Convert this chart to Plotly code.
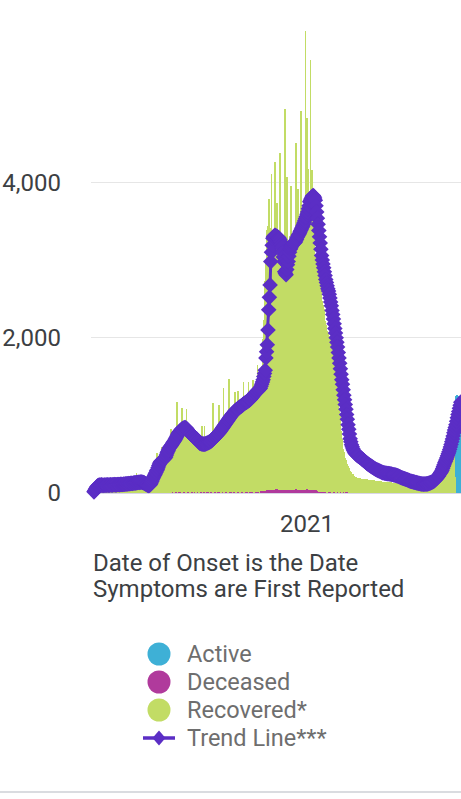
import pandas as pd
import plotly.graph_objects as go

# ---------------- data (daily) ----------------
start_date = "2020-03-01"

trend = [
    15, 30, 48, 62, 78, 88, 96,
    100, 102, 99, 101, 104, 100, 98,
    99, 101, 103, 100, 102, 105, 103,
    101, 100, 104, 106, 103, 102, 105,
    107, 106, 108, 105, 104, 107, 109,
    110, 108, 107, 111, 112, 110, 109,
    112, 114, 113, 115, 117, 116, 118,
    120, 121, 119, 122, 124, 125, 123,
    126, 128, 130, 129, 131, 133, 135,
    136, 138, 137, 139, 140, 141, 139,
    137, 134, 130, 124, 118, 112, 106,
    102, 98, 96, 100, 112, 128, 148,
    170, 192, 210, 228, 246, 265, 285,
    300, 325, 350, 372, 392, 405, 412,
    420, 428, 436, 444, 450, 465, 490,
    515, 535, 555, 575, 590, 600, 612,
    625, 640, 652, 665, 680, 695, 712,
    730, 748, 765, 778, 790, 800, 812,
    820, 828, 834, 838, 840, 842, 838,
    830, 818, 805, 792, 780, 770, 762,
    752, 745, 736, 728, 720, 712, 705,
    698, 690, 680, 668, 655, 642, 638,
    636, 633, 632, 630, 631, 630, 632,
    636, 640, 644, 648, 652, 656, 660,
    668, 676, 684, 692, 702, 711, 720,
    730, 740, 750, 760, 770, 780, 790,
    802, 815, 828, 840, 852, 866, 880,
    892, 905, 918, 930, 943, 957, 970,
    982, 994, 1005, 1016, 1027, 1038, 1049,
    1060, 1068, 1075, 1082, 1089, 1096, 1103,
    1110, 1116, 1122, 1130, 1138, 1146, 1153,
    1160, 1166, 1171, 1177, 1183, 1189, 1195,
    1200, 1211, 1222, 1234, 1246, 1258, 1270,
    1280, 1289, 1298, 1306, 1315, 1324, 1333,
    1342, 1350, 1375, 1402, 1430, 1460, 1500,
    1540, 1580, 1740, 1820, 1910, 2100, 2360,
    2520, 2680, 2980, 3100, 3190, 3280, 3300,
    3310, 3320, 3315, 3305, 3300, 3295, 3290,
    3280, 3260, 3240, 3200, 3160, 3100, 3040,
    2980, 2850, 2830, 2810, 2880, 2940, 2980,
    3050, 3100, 3140, 3160, 3180, 3195, 3210,
    3215, 3222, 3230, 3250, 3268, 3290, 3310,
    3325, 3340, 3360, 3380, 3400, 3420, 3440,
    3460, 3485, 3510, 3535, 3560, 3590, 3620,
    3660, 3700, 3750, 3770, 3790, 3810, 3825,
    3830, 3820, 3800, 3770, 3700, 3620, 3540,
    3460, 3380, 3300, 3220, 3140, 3060, 3000,
    2950, 2900, 2850, 2800, 2750, 2710, 2670,
    2630, 2600, 2560, 2510, 2460, 2410, 2350,
    2300, 2240, 2180, 2120, 2060, 2000, 1940,
    1880, 1810, 1740, 1670, 1600, 1530, 1460,
    1400, 1330, 1260, 1200, 1140, 1080, 1010,
    950, 880, 820, 760, 700, 660, 620,
    595, 570, 550, 530, 515, 505, 495,
    488, 480, 474, 468, 462, 456, 450,
    440, 432, 424, 416, 408, 400, 392,
    385, 378, 371, 364, 358, 352, 346,
    340, 334, 328, 322, 316, 310, 305,
    300, 296, 292, 288, 284, 280, 275,
    270, 266, 262, 260, 258, 256, 255,
    253, 251, 250, 249, 248, 246, 245,
    243, 241, 238, 236, 234, 232, 230,
    227, 224, 221, 218, 214, 210, 205,
    200, 197, 193, 190, 187, 184, 180,
    177, 174, 171, 167, 163, 159, 155,
    152, 150, 148, 145, 143, 140, 138,
    136, 133, 130, 128, 126, 124, 122,
    120, 118, 116, 115, 115, 114, 115,
    115, 116, 117, 118, 121, 124, 127,
    130, 134, 138, 142, 147, 152, 160,
    168, 177, 187, 197, 208, 220, 234,
    248, 262, 275, 292, 315, 340, 365,
    388, 410, 432, 455, 480, 505, 530,
    560, 592, 625, 660, 695, 735, 775,
    810, 845, 880, 925, 970, 1010, 1050,
    1090, 1130, 1170, 1200, 1230, 1260, 1290,
]

recovered = [
    0, 0, 2, 0, 5, 3, 8,
    10, 12, 8, 15, 18, 14, 20,
    25, 30, 22, 35, 40, 33, 45,
    50, 55, 48, 60, 65, 58, 70,
    72, 75, 68, 80, 84, 76, 88,
    90, 92, 85, 95, 98, 90, 100,
    104, 100, 96, 108, 110, 102, 112,
    118, 112, 108, 115, 120, 110, 122,
    125, 120, 118, 128, 130, 262, 128,
    132, 130, 126, 135, 138, 128, 134,
    130, 122, 118, 112, 105, 98, 95,
    100, 108, 120, 140, 165, 190, 215,
    330, 260, 285, 300, 330, 320, 360,
    520, 385, 400, 415, 420, 410, 440,
    590, 455, 470, 490, 515, 500, 560,
    650, 590, 605, 625, 645, 600, 830,
    700, 715, 730, 745, 760, 700, 775,
    1160, 790, 800, 812, 820, 760, 830,
    1090, 835, 842, 838, 830, 770, 815,
    1070, 800, 790, 775, 760, 700, 740,
    790, 725, 712, 700, 690, 640, 680,
    770, 665, 652, 642, 636, 585, 628,
    700, 855, 630, 632, 640, 852, 600,
    340, 655, 665, 675, 690, 630, 705,
    720, 735, 750, 1160, 770, 705, 790,
    805, 820, 835, 850, 860, 1120, 880,
    895, 910, 925, 930, 1330, 950, 965,
    975, 990, 940, 1010, 1025, 1455, 1040,
    1050, 1065, 720, 1080, 1090, 1030, 1100,
    1290, 1115, 1120, 1070, 1300, 1140, 1150,
    1160, 1165, 1100, 1175, 1180, 1415, 1190,
    1195, 1200, 1140, 1210, 1220, 1435, 1230,
    1240, 1250, 1190, 1265, 1435, 1280, 1290,
    1300, 1310, 1250, 1325, 1630, 1345, 1380,
    1420, 1470, 1520, 1620, 1760, 1950, 2200,
    2450, 2700, 2950, 3150, 3350, 3400, 3750,
    3350, 3380, 3300, 4070, 3320, 3340, 3280,
    3300, 4220, 3350, 3310, 3680, 3330, 3300,
    3280, 4350, 3250, 3280, 3240, 3200, 3260,
    3220, 4890, 3250, 3210, 4030, 3180, 3200,
    2050, 3250, 3270, 3900, 3290, 3300, 3250,
    3320, 3340, 3300, 4460, 3360, 3380, 3880,
    3400, 3420, 3380, 4870, 3440, 3460, 3420,
    3480, 3500, 3450, 5920, 3520, 4780, 4120,
    3540, 3560, 3500, 5540, 3520, 4130, 3480,
    3420, 3350, 3200, 2060, 3000, 2950, 2900,
    2850, 2800, 2750, 2700, 2600, 2500, 2450,
    2400, 2350, 2250, 2200, 2150, 2100, 2080,
    2050, 2030, 2010, 2000, 1950, 1900, 1850,
    1800, 1720, 1650, 1600, 1530, 1470, 1420,
    1300, 1180, 1080, 980, 880, 790, 700,
    620, 560, 510, 470, 440, 410, 385,
    360, 340, 320, 300, 285, 270, 260,
    250, 240, 230, 220, 210, 205, 200,
    198, 195, 190, 192, 188, 185, 186,
    184, 182, 180, 178, 180, 176, 175,
    174, 172, 170, 171, 168, 166, 168,
    165, 164, 162, 163, 160, 158, 160,
    158, 156, 155, 154, 152, 150, 151,
    150, 148, 147, 146, 145, 143, 144,
    142, 141, 140, 139, 138, 136, 137,
    136, 135, 134, 133, 132, 130, 131,
    130, 129, 128, 127, 126, 125, 126,
    125, 124, 123, 122, 122, 121, 120,
    120, 119, 118, 118, 117, 116, 116,
    115, 115, 114, 114, 113, 113, 112,
    112, 112, 111, 112, 113, 114, 115,
    116, 118, 120, 122, 125, 128, 131,
    135, 139, 143, 148, 150, 152, 155,
    160, 165, 170, 176, 182, 188, 195,
    202, 210, 218, 226, 235, 245, 255,
    265, 276, 288, 300, 315, 330, 350,
    380, 420, 470, 520, 570, 600, 620,
    630, 640, 645, 650, 645, 640, 630,
    600, 450, 200, 120,
]

deceased_start = "2020-06-18"
deceased = [
    10, 14, 0, 16, 12, 14, 0,
    15, 13, 17, 14, 0, 12, 16,
    18, 14, 16, 0, 13, 17, 15,
    14, 16, 0, 15, 18, 13, 14,
    16, 0, 14, 17, 15, 12, 0,
    13, 16, 14, 0, 15, 12, 14,
    0, 13, 15, 14, 12, 0, 14,
    16, 13, 0, 14, 15, 13, 16,
    14, 0, 13, 15, 16, 14, 0,
    15, 14, 16, 13, 0, 14, 17,
    15, 13, 16, 0, 14, 15, 17,
    16, 0, 15, 17, 14, 16, 18,
    0, 16, 17, 15, 18, 16, 0,
    17, 16, 18, 15, 0, 17, 16,
    18, 16, 17, 0, 16, 18, 17,
    16, 18, 0, 17, 16, 19, 18,
    17, 0, 18, 19, 17, 16, 20,
    18, 19, 0, 17, 20, 18, 19,
    20, 18, 19, 0, 20, 22, 21,
    24, 28, 32, 34, 32, 36, 35,
    33, 36, 34, 38, 35, 50, 36,
    34, 37, 35, 36, 48, 50, 49,
    51, 48, 50, 36, 35, 37, 34,
    36, 35, 38, 37, 50, 36, 35,
    34, 36, 35, 37, 38, 36, 50,
    35, 37, 36, 38, 35, 50, 49,
    48, 51, 37, 36, 38, 35, 50,
    36, 38, 35, 37, 36, 38, 50,
    49, 52, 50, 37, 36, 75, 36,
    35, 34, 36, 35, 34, 33, 35,
    34, 33, 32, 34, 18, 16, 17,
    35, 16, 17, 15, 16, 14, 16,
    15, 14, 0, 16, 15, 14, 13,
    14, 15, 0, 13, 14, 12, 15,
    13, 0, 14, 12, 13, 0, 12,
    13, 12, 0, 14, 12, 13, 0,
    12, 13, 11, 12, 13, 0, 0,
]

active_start = "2021-08-03"
active = [1050, 1130, 1260, 1250, 1220, 1200, 1190, 1180, 1150, 1100, 1050, 1000]

y_ticks = [0, 2000, 4000]
y_tick_text = ["0", "2,000", "4,000"]
x_ticks = ["2021-01-01"]
x_tick_text = ["2021"]

legend_names = ["Active", "Deceased", "Recovered*", "Trend Line***"]

# ---------------- styling ----------------
C_ACT = "#3eb0d6"
C_DEC = "#b03a9c"
C_REC = "#c2dc65"
C_TR = "#5b2ec5"
FONT = "Roboto"
TXT = "#3c4043"
LEG_TXT = "#6e6e6e"

trend_dates = pd.date_range(start_date, periods=len(trend), freq="D")
rec_dates = pd.date_range(start_date, periods=len(recovered), freq="D")
dec_dates = pd.date_range(deceased_start, periods=len(deceased), freq="D")
act_dates = pd.date_range(active_start, periods=len(active), freq="D")

fig = go.Figure()
fig.add_trace(go.Bar(x=dec_dates, y=deceased, name="Deceased",
                     marker=dict(color=C_DEC, line=dict(width=0)), showlegend=False))
fig.add_trace(go.Bar(x=rec_dates, y=recovered, name="Recovered*",
                     marker=dict(color=C_REC, line=dict(width=0)), showlegend=False))
fig.add_trace(go.Bar(x=act_dates, y=active, name="Active",
                     marker=dict(color=C_ACT, line=dict(width=0)), showlegend=False))
fig.add_trace(go.Scatter(x=trend_dates, y=trend, mode="lines+markers", name="Trend Line***",
                         line=dict(color=C_TR, width=3),
                         marker=dict(symbol="diamond", size=12, color=C_TR, line=dict(width=0)),
                         cliponaxis=False, showlegend=False))

W, H = 461, 799
L, R, T, B = 91, 0, 31, 306
pw, ph = W - L - R, H - T - B


def px_x(x):
    return (x - L) / pw


def px_y(y):
    return (H - B - y) / ph


# ---- legend drawn as shapes + text, placed to match the reference ----
leg_cx, leg_tx = 159, 185
leg_ys = [654, 682, 710, 738]
leg_colors = [C_ACT, C_DEC, C_REC]
shapes = []
annotations = []
for yy, c in zip(leg_ys[:3], leg_colors):
    r = 11.5
    shapes.append(dict(type="circle", xref="paper", yref="paper",
                       x0=px_x(leg_cx - r), x1=px_x(leg_cx + r),
                       y0=px_y(yy + r), y1=px_y(yy - r),
                       fillcolor=c, line=dict(width=0)))
ty = leg_ys[3]
shapes.append(dict(type="line", xref="paper", yref="paper",
                   x0=px_x(143), x1=px_x(175), y0=px_y(ty), y1=px_y(ty),
                   line=dict(color=C_TR, width=3.5)))
dpath = "M {a},{b} L {c},{d} L {e},{f} L {g},{h} Z".format(
    a=px_x(leg_cx), b=px_y(ty - 7.5), c=px_x(leg_cx + 6.5), d=px_y(ty),
    e=px_x(leg_cx), f=px_y(ty + 7.5), g=px_x(leg_cx - 6.5), h=px_y(ty))
shapes.append(dict(type="path", xref="paper", yref="paper", path=dpath,
                   fillcolor=C_TR, line=dict(width=0)))
for yy, nm in zip(leg_ys, legend_names):
    annotations.append(dict(text=nm, xref="paper", yref="paper", x=px_x(leg_tx), y=px_y(yy),
                            xanchor="left", yanchor="middle", showarrow=False,
                            font=dict(family=FONT, size=23.5, color=LEG_TXT)))

# x-axis title (left aligned, two lines)
annotations.append(dict(text="Date of Onset is the Date", xref="paper", yref="paper",
                        x=0, y=px_y(563), xanchor="left", yanchor="middle", showarrow=False,
                        font=dict(family=FONT, size=24, color=TXT)))
annotations.append(dict(text="Symptoms are First Reported", xref="paper", yref="paper",
                        x=0, y=px_y(589), xanchor="left", yanchor="middle", showarrow=False,
                        font=dict(family=FONT, size=24, color=TXT)))

# bottom separator
shapes.append(dict(type="line", xref="paper", yref="paper", x0=px_x(0), x1=px_x(W),
                   y0=px_y(792), y1=px_y(792), line=dict(color="#dadce0", width=2)))

fig.update_layout(
    width=W, height=H, autosize=False,
    margin=dict(l=L, r=R, t=T, b=B, pad=0),
    barmode="stack", bargap=0,
    plot_bgcolor="white", paper_bgcolor="white",
    font=dict(family=FONT, size=24, color=TXT),
    showlegend=False,
    hovermode=False,
    annotations=annotations,
    shapes=shapes,
)

fig.update_yaxes(range=[0, 5950], tickvals=y_ticks, ticktext=y_tick_text,
                 showgrid=True, gridcolor="#e6e6e6", gridwidth=1,
                 zeroline=True, zerolinecolor="#d9d7e6", zerolinewidth=1,
                 ticks="", ticklabelstandoff=29, fixedrange=True,
                 tickfont=dict(family=FONT, size=24, color=TXT))
fig.update_xaxes(type="date", range=["2020-02-25 17:00", "2021-08-10 07:00"],
                 tickvals=x_ticks, ticktext=x_tick_text,
                 showgrid=False, zeroline=False, showline=False, ticks="",
                 ticklabelstandoff=14, fixedrange=True,
                 tickfont=dict(family=FONT, size=24, color=TXT))

fig.write_html("out.html", config={"displayModeBar": False},
               post_script="document.body.style.margin='0px';document.body.style.overflow='hidden';")
